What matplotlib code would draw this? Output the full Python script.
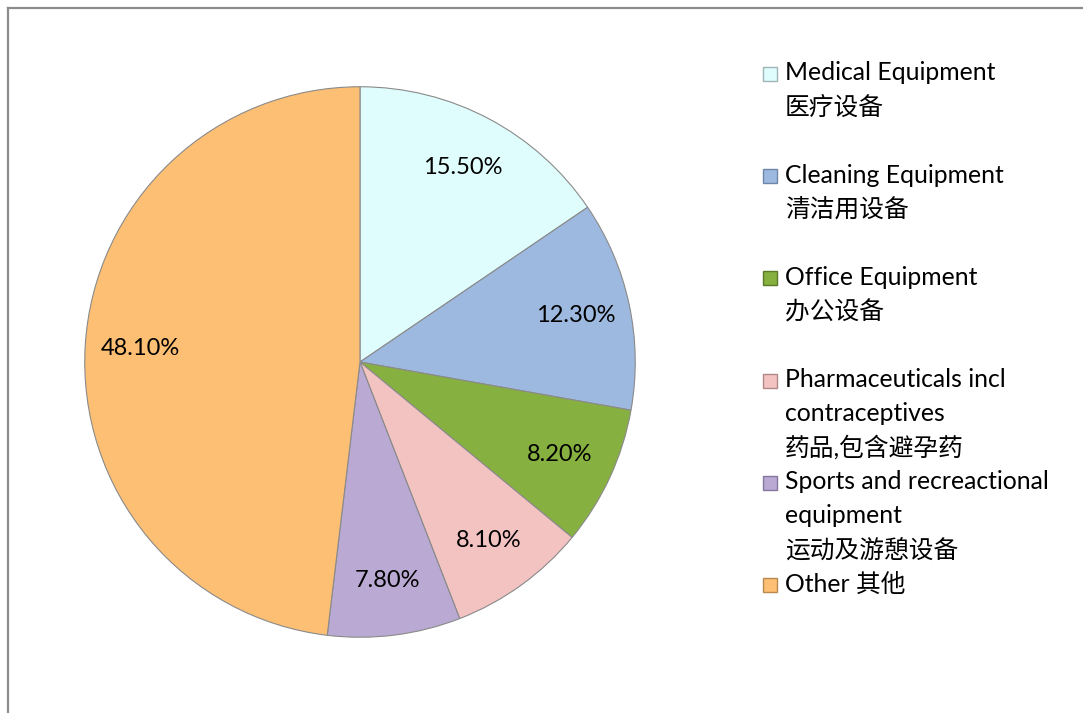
import matplotlib.pyplot as plt
from matplotlib.lines import Line2D
from matplotlib.patches import Rectangle

categories = ['Medical Equipment\n医疗设备',
              'Cleaning Equipment\n清洁用设备',
              'Office Equipment\n办公设备',
              'Pharmaceuticals incl\ncontraceptives\n药品,包含避孕药',
              'Sports and recreactional\nequipment\n运动及游憩设备',
              'Other 其他']
shares = [15.5, 12.3, 8.2, 8.1, 7.8, 48.1]
colors = ['#dffdfd', '#9eb9df', '#86b040', '#f3c3c2', '#b9a9d3', '#fdbf73']
edges = ['#9fb4b4', '#6f86a8', '#5a7a28', '#b08888', '#8576a0', '#b88a50']

fonts = ['Lato', 'Noto Sans CJK SC']
W, H = 1083, 713

fig = plt.figure(figsize=(W / 100, H / 100), dpi=100)

# pie centred at (360, 362) px, radius 278 px
cx, cy, r = 360, 362, 278
ax = fig.add_axes([(cx - r) / W, (H - cy - r) / H, 2 * r / W, 2 * r / H])
wedges, texts, autotexts = ax.pie(
    shares, colors=colors, startangle=90, counterclock=False,
    autopct='%.2f%%', pctdistance=0.8,
    wedgeprops=dict(edgecolor='#8a8a8a', linewidth=0.8))
for t in autotexts:
    t.set_fontsize(17)
    t.set_family(fonts)
    t.set_color('black')
ax.set_xlim(-1.01, 1.01)
ax.set_ylim(-1.01, 1.01)
ax.axis('off')

# legend drawn by hand, one row per line of text
y0, step, lh = 73, 102.2, 34
for i, lab in enumerate(categories):
    ytop = y0 + i * step
    fig.patches.append(Rectangle(((763) / W, 1 - (ytop + 8) / H), 14 / W, 14 / H,
                                 transform=fig.transFigure, facecolor=colors[i],
                                 edgecolor=edges[i], linewidth=1))
    for k, line in enumerate(lab.split('\n')):
        fig.text(785 / W, 1 - (ytop + k * lh) / H, line, fontsize=17.8,
                 family=fonts, va='center', ha='left')

# chart area border (top and left visible)
fig.add_artist(Line2D([8 / W, 1], [1 - 8 / H, 1 - 8 / H], transform=fig.transFigure,
                      color='#8c8c8c', linewidth=1.6))
fig.add_artist(Line2D([8 / W, 8 / W], [0, 1 - 8 / H], transform=fig.transFigure,
                      color='#8c8c8c', linewidth=1.6))

fig.savefig('out.png', dpi=100)
